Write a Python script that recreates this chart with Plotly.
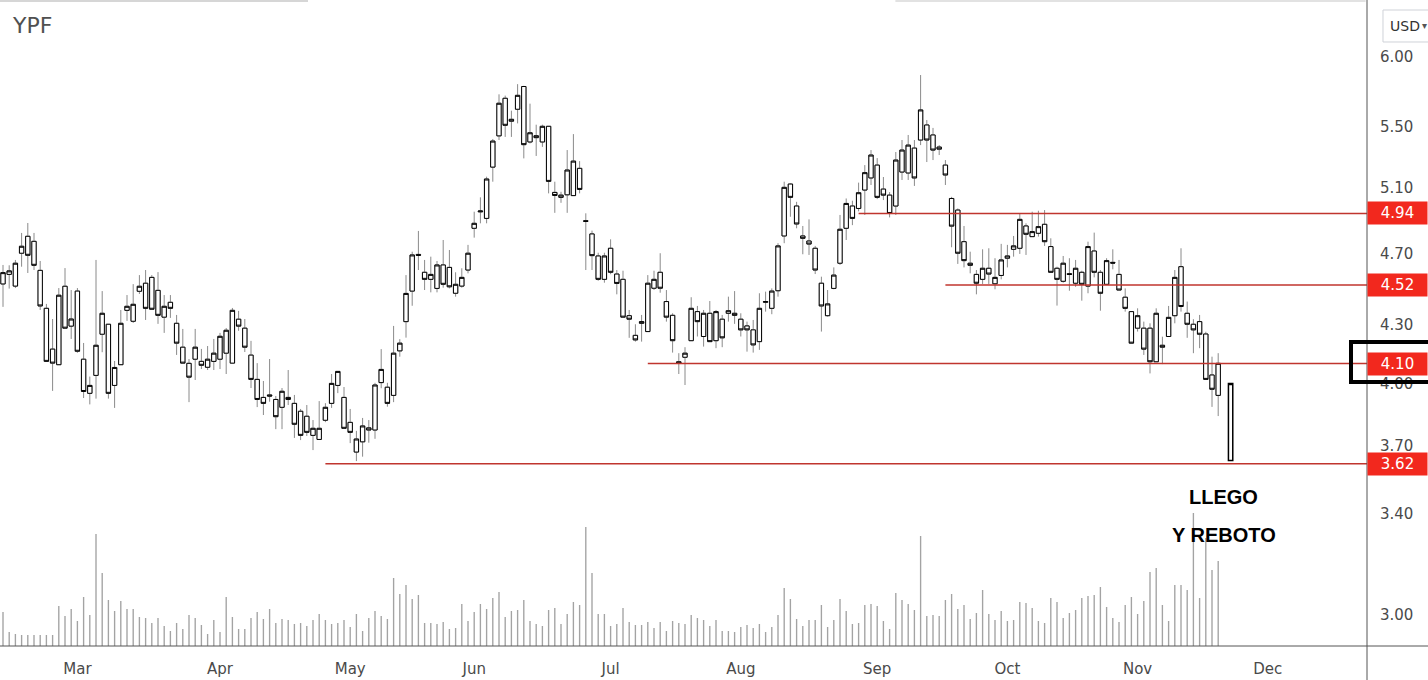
import math
import plotly.graph_objects as go

ticker = "YPF"

# Daily bars (Feb-10 .. Nov-18)
opens = [
    4.526, 4.580, 4.514, 4.702, 4.802, 4.772, 4.603, 4.391, 4.174, 4.094,
    4.513, 4.295, 4.486, 4.122, 3.951, 4.040, 4.252, 4.305, 3.990, 4.094,
    4.380, 4.321, 4.485, 4.530, 4.563, 4.490, 4.343, 4.424, 4.310, 4.184,
    4.101, 4.122, 4.111, 4.081, 4.111, 4.122, 4.153, 4.102, 4.332, 4.284,
    4.143, 4.020, 3.931, 3.943, 3.921, 3.883, 3.931, 3.902, 3.864, 3.840,
    3.750, 3.731, 3.821, 3.902, 3.990, 3.931, 3.811, 3.673, 3.720, 3.785,
    3.775, 4.004, 3.981, 3.941, 4.165, 4.319, 4.486, 4.695, 4.592, 4.552,
    4.501, 4.634, 4.620, 4.474, 4.514, 4.605, 4.850, 4.950, 4.910, 5.233,
    5.440, 5.700, 5.540, 5.623, 5.784, 5.399, 5.441, 5.399, 5.505, 5.071,
    5.040, 5.056, 5.051, 5.225, 4.896, 4.816, 4.686, 4.552, 4.731, 4.582,
    4.552, 4.351, 4.246, 4.310, 4.266, 4.502, 4.592, 4.428, 4.353, 4.109,
    4.132, 4.218, 4.373, 4.240, 4.364, 4.218, 4.332, 4.364, 4.364, 4.332,
    4.296, 4.275, 4.213, 4.424, 4.391, 4.488, 4.804, 5.124, 4.986, 4.804,
    4.774, 4.731, 4.530, 4.351, 4.501, 4.644, 4.850, 4.986, 4.971, 5.086,
    5.163, 5.246, 5.092, 5.054, 4.986, 5.201, 5.195, 5.358, 5.412, 5.514,
    5.446, 5.365, 5.246, 5.033, 4.961, 4.770, 4.644, 4.580, 4.552, 4.615,
    4.527, 4.574, 4.673, 4.725, 4.731, 4.864, 4.800, 4.820, 4.874, 4.741,
    4.615, 4.541, 4.584, 4.530, 4.592, 4.514, 4.715, 4.592, 4.524, 4.649,
    4.580, 4.452, 4.373, 4.284, 4.284, 4.284, 4.109, 4.194, 4.240, 4.351,
    4.624, 4.364, 4.305, 4.319, 4.253, 4.042, 3.941,
]
highs = [
    4.634, 4.632, 4.663, 4.822, 4.882, 4.822, 4.657, 4.415, 4.333, 4.503,
    4.616, 4.492, 4.503, 4.206, 4.034, 4.663, 4.486, 4.305, 4.113, 4.382,
    4.464, 4.525, 4.576, 4.605, 4.576, 4.593, 4.464, 4.464, 4.355, 4.280,
    4.123, 4.280, 4.175, 4.190, 4.227, 4.259, 4.285, 4.393, 4.377, 4.333,
    4.217, 4.102, 4.012, 4.123, 3.938, 3.977, 4.067, 3.943, 3.875, 3.894,
    3.822, 3.913, 3.903, 4.047, 4.062, 3.982, 3.875, 3.771, 3.832, 3.822,
    4.003, 4.174, 4.003, 4.296, 4.226, 4.576, 4.711, 4.834, 4.663, 4.682,
    4.657, 4.780, 4.721, 4.592, 4.615, 4.751, 4.951, 5.040, 5.171, 5.419,
    5.728, 5.719, 5.613, 5.801, 5.789, 5.662, 5.516, 5.516, 5.505, 5.139,
    5.075, 5.345, 5.452, 5.272, 4.941, 4.836, 4.705, 4.705, 4.784, 4.605,
    4.601, 4.382, 4.305, 4.355, 4.576, 4.601, 4.702, 4.492, 4.364, 4.153,
    4.184, 4.452, 4.404, 4.382, 4.431, 4.382, 4.355, 4.455, 4.486, 4.364,
    4.319, 4.328, 4.474, 4.483, 4.501, 4.761, 5.139, 5.128, 5.012, 4.864,
    4.904, 4.745, 4.567, 4.492, 4.620, 4.931, 5.033, 5.019, 5.133, 5.246,
    5.345, 5.292, 5.169, 5.073, 5.332, 5.412, 5.446, 5.412, 5.867, 5.548,
    5.494, 5.378, 5.279, 5.043, 4.971, 4.864, 4.711, 4.605, 4.725, 4.731,
    4.673, 4.757, 4.751, 4.804, 4.937, 4.880, 4.951, 4.957, 4.961, 4.790,
    4.624, 4.686, 4.673, 4.663, 4.601, 4.770, 4.824, 4.605, 4.673, 4.725,
    4.663, 4.501, 4.373, 4.391, 4.319, 4.310, 4.391, 4.239, 4.404, 4.605,
    4.731, 4.428, 4.332, 4.355, 4.265, 4.135, 4.153,
]
lows = [
    4.399, 4.500, 4.503, 4.624, 4.588, 4.605, 4.382, 4.108, 3.963, 4.094,
    4.284, 4.227, 4.155, 3.928, 3.897, 3.925, 4.158, 3.925, 3.880, 4.094,
    4.323, 4.312, 4.470, 4.328, 4.382, 4.307, 4.259, 4.339, 4.144, 4.102,
    3.908, 4.017, 4.072, 4.067, 4.067, 4.072, 4.047, 4.102, 4.270, 4.159,
    3.977, 3.884, 3.846, 3.910, 3.779, 3.779, 3.894, 3.738, 3.728, 3.747,
    3.682, 3.731, 3.812, 3.880, 3.952, 3.783, 3.714, 3.632, 3.652, 3.716,
    3.734, 3.976, 3.886, 3.908, 4.135, 4.234, 4.405, 4.605, 4.492, 4.479,
    4.479, 4.505, 4.501, 4.455, 4.505, 4.586, 4.794, 4.880, 4.880, 5.139,
    5.412, 5.433, 5.433, 5.525, 5.290, 5.389, 5.306, 5.366, 5.065, 4.944,
    5.006, 4.944, 5.051, 5.065, 4.605, 4.605, 4.544, 4.533, 4.581, 4.468,
    4.343, 4.233, 4.213, 4.213, 4.266, 4.492, 4.477, 4.319, 4.156, 4.047,
    3.992, 4.218, 4.240, 4.187, 4.213, 4.179, 4.184, 4.319, 4.307, 4.240,
    4.161, 4.156, 4.170, 4.373, 4.359, 4.455, 4.761, 4.920, 4.850, 4.696,
    4.692, 4.582, 4.266, 4.346, 4.496, 4.634, 4.780, 4.869, 4.953, 4.931,
    5.118, 5.029, 5.023, 4.916, 4.931, 5.150, 5.150, 5.112, 5.378, 5.266,
    5.279, 5.312, 5.118, 4.737, 4.640, 4.620, 4.586, 4.468, 4.526, 4.526,
    4.496, 4.552, 4.620, 4.682, 4.698, 4.692, 4.800, 4.800, 4.745, 4.592,
    4.406, 4.533, 4.488, 4.510, 4.433, 4.474, 4.563, 4.378, 4.520, 4.609,
    4.492, 4.373, 4.205, 4.266, 4.144, 4.050, 4.109, 4.097, 4.240, 4.310,
    4.373, 4.233, 4.153, 4.179, 4.020, 3.885, 3.841,
]
closes = [
    4.590, 4.600, 4.644, 4.743, 4.690, 4.632, 4.404, 4.111, 4.102, 4.463,
    4.284, 4.333, 4.163, 3.960, 3.990, 4.194, 4.364, 3.951, 4.080, 4.310,
    4.402, 4.413, 4.513, 4.391, 4.386, 4.353, 4.402, 4.391, 4.205, 4.102,
    4.031, 4.184, 4.091, 4.122, 4.153, 4.241, 4.273, 4.380, 4.295, 4.184,
    4.020, 3.921, 3.902, 3.938, 3.838, 3.961, 3.921, 3.802, 3.750, 3.764,
    3.783, 3.783, 3.883, 4.000, 4.060, 3.783, 3.764, 3.733, 3.794, 3.775,
    3.992, 4.070, 3.902, 4.153, 4.205, 4.473, 4.692, 4.690, 4.552, 4.580,
    4.634, 4.524, 4.510, 4.524, 4.563, 4.702, 4.880, 4.955, 5.156, 5.405,
    5.665, 5.512, 5.553, 5.721, 5.381, 5.461, 5.428, 5.505, 5.141, 5.052,
    5.054, 5.214, 5.272, 5.090, 4.892, 4.688, 4.552, 4.686, 4.592, 4.529,
    4.343, 4.332, 4.222, 4.319, 4.530, 4.552, 4.502, 4.343, 4.218, 4.101,
    4.153, 4.391, 4.319, 4.364, 4.213, 4.373, 4.233, 4.378, 4.353, 4.275,
    4.275, 4.196, 4.391, 4.428, 4.486, 4.745, 5.103, 5.040, 4.876, 4.790,
    4.756, 4.605, 4.404, 4.415, 4.576, 4.844, 5.002, 4.910, 5.069, 5.197,
    5.312, 5.040, 5.054, 4.940, 5.279, 5.345, 5.378, 5.163, 5.618, 5.412,
    5.345, 5.351, 5.182, 4.863, 4.702, 4.659, 4.632, 4.530, 4.615, 4.582,
    4.563, 4.663, 4.686, 4.745, 4.904, 4.814, 4.830, 4.860, 4.770, 4.592,
    4.552, 4.644, 4.580, 4.615, 4.524, 4.741, 4.592, 4.474, 4.659, 4.645,
    4.492, 4.391, 4.205, 4.351, 4.174, 4.109, 4.364, 4.184, 4.342, 4.563,
    4.401, 4.305, 4.275, 4.252, 4.020, 3.971, 4.101,
]
# volume, millions of shares
volumes = [
    1.70, 0.70, 0.60, 0.55, 0.55, 0.55, 0.55, 0.55, 0.55, 2.00,
    1.50, 1.85, 1.25, 2.45, 1.55, 5.60, 3.65, 2.30, 1.75, 2.25,
    1.85, 1.85, 1.45, 1.40, 1.15, 1.40, 1.00, 0.75, 1.15, 0.85,
    1.55, 1.40, 1.05, 0.60, 1.30, 0.70, 2.45, 1.45, 0.85, 0.85,
    1.40, 1.70, 1.35, 1.85, 1.15, 1.35, 1.30, 1.10, 1.15, 1.00,
    1.30, 1.60, 1.30, 1.10, 1.15, 1.30, 0.95, 1.60, 0.75, 1.40,
    1.75, 1.50, 1.35, 3.40, 2.60, 3.05, 2.35, 2.55, 1.15, 1.15,
    1.10, 1.20, 0.85, 0.90, 2.10, 1.25, 1.70, 2.10, 1.85, 2.40,
    2.70, 1.45, 1.75, 1.80, 2.30, 1.25, 1.10, 1.00, 1.80, 1.90,
    1.10, 1.60, 2.20, 2.05, 5.95, 3.65, 1.60, 1.60, 1.00, 1.10,
    1.90, 1.20, 1.05, 1.05, 1.20, 0.90, 1.20, 0.75, 1.25, 1.15,
    1.10, 1.55, 1.40, 1.30, 1.00, 1.30, 0.75, 0.75, 0.70, 0.95,
    1.05, 0.90, 1.10, 0.70, 0.95, 1.55, 2.90, 2.35, 1.35, 1.00,
    1.30, 1.30, 2.05, 0.95, 1.30, 2.35, 1.75, 1.10, 1.15, 2.05,
    2.10, 2.00, 1.25, 0.85, 2.65, 2.30, 2.10, 1.80, 5.50, 1.50,
    1.55, 1.50, 2.30, 2.60, 1.85, 2.05, 1.35, 1.65, 2.80, 1.60,
    1.30, 1.75, 1.25, 1.30, 2.20, 2.15, 1.90, 1.25, 1.15, 2.40,
    2.20, 1.40, 1.65, 1.80, 2.40, 2.50, 2.55, 2.95, 1.95, 1.40,
    1.20, 2.05, 2.45, 1.60, 2.25, 3.70, 3.90, 2.05, 1.25, 3.05,
    3.05, 2.80, 6.65, 2.40, 5.40, 3.80, 4.25,
]
bar_index = list(range(len(opens)))

# hand-drawn rebound candle added by the author
rebound_index = [198]
rebound_open = [3.635]
rebound_close = [4.00]

month_labels = ["Mar", "Apr", "May", "Jun", "Jul", "Aug", "Sep", "Oct", "Nov", "Dec"]
month_first_bar = [12, 35, 56, 76, 98, 119, 141, 162, 183, 204]

price_ticks = [6.00, 5.50, 5.10, 4.70, 4.30, 4.00, 3.70, 3.40, 3.00]

levels = [4.94, 4.52, 4.10, 3.62]
level_start_bar = [138, 152, 104, 52]

note_lines = ["LLEGO", "Y REBOTO"]

X_RANGE = [-0.484, 220.0]
Y_RANGE = [0.46039, 0.80890]   # log10 of price
VOL_RANGE = [0, 32.3]

AXIS_FONT = dict(family="DejaVu Sans", size=15, color="#4a4a4a")
WICK = "#8a8a8a"
LEVEL_RED = "#c0352e"

fig = go.Figure()

fig.add_trace(go.Bar(
    x=bar_index, y=volumes, yaxis="y2", width=0.22,
    marker=dict(color="#a3a3a3", line=dict(width=0)),
    hoverinfo="skip", showlegend=False,
))

# wicks (gray)
fig.add_trace(go.Candlestick(
    x=bar_index, open=opens, high=highs, low=lows, close=closes,
    increasing=dict(line=dict(color=WICK, width=1), fillcolor="#ffffff"),
    decreasing=dict(line=dict(color=WICK, width=1), fillcolor="#ffffff"),
    whiskerwidth=0, hoverinfo="skip", showlegend=False,
))
# bodies (black outline, hollow)
body_top = [max(o, c) for o, c in zip(opens, closes)]
body_bot = [min(o, c) for o, c in zip(opens, closes)]
fig.add_trace(go.Candlestick(
    x=bar_index, open=opens, high=body_top, low=body_bot, close=closes,
    increasing=dict(line=dict(color="#000000", width=1), fillcolor="#ffffff"),
    decreasing=dict(line=dict(color="#000000", width=1), fillcolor="#ffffff"),
    whiskerwidth=0, hoverinfo="skip", showlegend=False,
))
fig.add_trace(go.Candlestick(
    x=rebound_index, open=rebound_open, high=rebound_close, low=rebound_open,
    close=rebound_close,
    increasing=dict(line=dict(color="#000000", width=1.5), fillcolor="#ffffff"),
    decreasing=dict(line=dict(color="#000000", width=1.5), fillcolor="#ffffff"),
    whiskerwidth=0, hoverinfo="skip", showlegend=False,
))

# support / resistance levels
for lvl, start in zip(levels, level_start_bar):
    fig.add_trace(go.Scatter(
        x=[start, X_RANGE[1]], y=[lvl, lvl], mode="lines",
        line=dict(color=LEVEL_RED, width=1.5), hoverinfo="skip", showlegend=False,
    ))

annotations = []
for lvl in levels:
    annotations.append(dict(
        x=1, xref="paper", xanchor="left", y=math.log10(lvl), yref="y",
        yanchor="middle", text=f"{lvl:.2f}", showarrow=False,
        bgcolor="#f2281e", font=dict(family="DejaVu Sans", size=15, color="#ffffff"),
        width=55, height=18, borderpad=2, align="center",
    ))

annotations.append(dict(
    x=0.0075, xref="paper", xanchor="left", y=0.9613, yref="paper", yanchor="middle",
    text=ticker, showarrow=False,
    font=dict(family="DejaVu Sans", size=22, color="#505050"),
))
annotations.append(dict(
    x=0.8947, xref="paper", xanchor="center", y=0.2307, yref="paper", yanchor="middle",
    text="<b>" + note_lines[0] + "</b>", showarrow=False,
    font=dict(family="Liberation Sans", size=20, color="#000000"),
))
annotations.append(dict(
    x=0.8954, xref="paper", xanchor="center", y=0.1711, yref="paper", yanchor="middle",
    text="<b>" + note_lines[1] + "</b>", showarrow=False,
    font=dict(family="Liberation Sans", size=20, color="#000000"),
))
annotations.append(dict(
    x=1.0278, xref="paper", xanchor="center", y=0.9598, yref="paper", yanchor="middle",
    text="USD", showarrow=False,
    font=dict(family="DejaVu Sans", size=14, color="#333333"),
))
annotations.append(dict(
    x=1.0418, xref="paper", xanchor="center", y=0.9598, yref="paper", yanchor="middle",
    text="▾", showarrow=False,
    font=dict(family="DejaVu Sans", size=10, color="#555555"),
))

shapes = [
    # time-axis separator and price-axis separator
    dict(type="line", xref="paper", yref="paper", x0=0, x1=1.06, y0=0, y1=0,
         line=dict(color="#555555", width=1)),
    dict(type="line", xref="paper", yref="paper", x0=1, x1=1, y0=-0.07, y1=1.01,
         line=dict(color="#555555", width=1)),
    # faint top border pieces
    dict(type="line", xref="paper", yref="paper", x0=0, x1=0.2253, y0=0.9985, y1=0.9985,
         line=dict(color="#d6d6d6", width=2)),
    dict(type="line", xref="paper", yref="paper", x0=0.655, x1=0.999, y0=0.9985, y1=0.9985,
         line=dict(color="#e2e2e2", width=2)),
    # USD box
    dict(type="rect", xref="paper", yref="paper", x0=1.0117, x1=1.06, y0=0.935, y1=0.9845,
         line=dict(color="#cfd2d8", width=1)),
    # highlight box around the 4.10 label
    dict(type="rect", xref="paper", yref="paper", x0=0.9883, x1=1.06, y0=0.4087, y1=0.4706,
         line=dict(color="#000000", width=4)),
]

fig.update_layout(
    width=1428, height=680, autosize=False,
    margin=dict(l=0, r=61, t=0, b=34, pad=0),
    paper_bgcolor="#ffffff", plot_bgcolor="#ffffff",
    showlegend=False, hovermode=False,
    boxgap=0.3, boxgroupgap=0,
    xaxis=dict(
        range=X_RANGE, showgrid=False, zeroline=False, showline=False,
        tickmode="array", tickvals=month_first_bar, ticktext=month_labels,
        ticks="", tickfont=AXIS_FONT, ticklabelstandoff=12,
        rangeslider=dict(visible=False), fixedrange=True,
    ),
    yaxis=dict(
        type="log", range=Y_RANGE, side="right", showgrid=False, zeroline=False,
        showline=False, tickmode="array", tickvals=price_ticks,
        ticktext=[f"{t:.2f}" for t in price_ticks], ticks="",
        tickfont=AXIS_FONT, ticklabelstandoff=12, fixedrange=True,
    ),
    yaxis2=dict(overlaying="y", range=VOL_RANGE, visible=False, fixedrange=True),
    annotations=annotations,
    shapes=shapes,
)

fig.write_html(
    "out.html",
    config={"displayModeBar": False, "staticPlot": True},
    post_script="document.body.style.margin='0';document.body.style.overflow='hidden';",
)
